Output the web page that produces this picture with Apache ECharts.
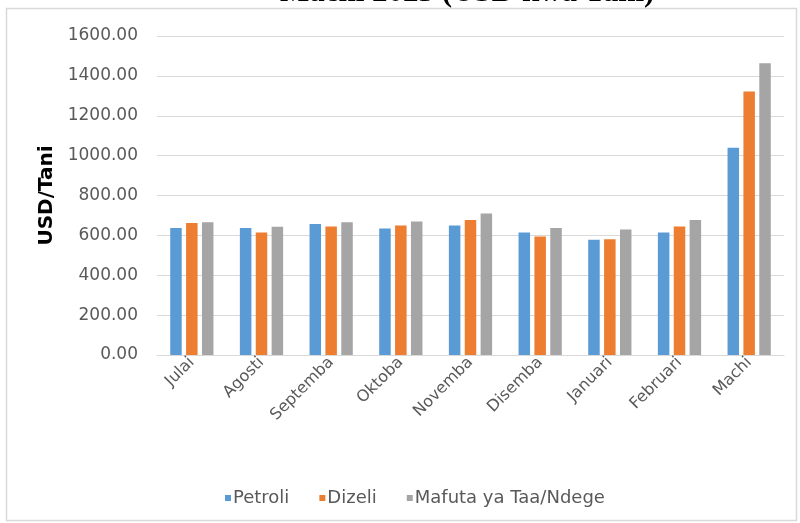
<!DOCTYPE html>
<html>
<head>
<meta charset="utf-8">
<script src="https://cdn.jsdelivr.net/npm/echarts@6/dist/echarts.min.js"></script>
<style>
html,body{margin:0;padding:0;background:#fff;}
#c{width:800px;height:523px;}
</style>
</head>
<body>
<div id="c"></div>
<script>
const categories = ['Julai','Agosti','Septemba','Oktoba','Novemba','Disemba','Januari','Februari','Machi'];
const petroli = [637, 637, 657, 635, 650, 615, 578, 615, 1040];
const dizeli  = [662, 615, 645, 650, 677, 594, 580, 645, 1322];
const mafuta  = [666, 643, 666, 670, 710, 637, 630, 677, 1463];
const seriesNames = ['Petroli', 'Dizeli', 'Mafuta ya Taa/Ndege'];
const titleText = 'Machi 2023 (USD kwa Tani)';

const chart = echarts.init(document.getElementById('c'));
const font = '"DejaVu Sans", sans-serif';
chart.setOption({
  animation: false,
  color: ['#5b9bd5', '#ed7d31', '#a5a5a5'],
  graphic: [
    { type: 'rect', shape: { x: 6.5, y: 8.5, width: 790, height: 512 }, style: { fill: 'none', stroke: '#d9d9d9', lineWidth: 1.5 }, z: -1 },
    { type: 'text', left: 280, top: -23, style: { text: titleText, font: 'bold 31px "Liberation Serif", "DejaVu Serif", serif', fill: '#000' } }
  ],
  grid: { left: 157, right: 16, top: 36, bottom: 168, containLabel: false },
  legend: {
    top: 484, left: 220,
    itemWidth: 6, itemHeight: 6, itemGap: 30,
    icon: 'rect',
    textStyle: { color: '#595959', fontSize: 18, fontFamily: font, padding: [0, 0, 0, -3] },
    data: seriesNames
  },
  xAxis: {
    type: 'category', data: categories,
    axisLine: { lineStyle: { color: '#d9d9d9' } },
    axisTick: { show: false },
    axisLabel: { rotate: 45, color: '#595959', fontSize: 16, fontFamily: font, interval: 0, margin: 5 }
  },
  yAxis: {
    type: 'value', min: 0, max: 1600, interval: 200,
    name: 'USD/Tani', nameLocation: 'middle', nameGap: 94,
    nameTextStyle: { color: '#000', fontSize: 20, fontWeight: 'bold', fontFamily: font },
    axisLine: { show: false }, axisTick: { show: false },
    axisLabel: { color: '#595959', fontSize: 17, fontFamily: font, margin: 19, formatter: v => v.toFixed(2) },
    splitLine: { lineStyle: { color: '#d9d9d9' } }
  },
  series: [
    { name: seriesNames[0], type: 'bar', data: petroli, barWidth: 11.5, barGap: '38%' },
    { name: seriesNames[1], type: 'bar', data: dizeli, barWidth: 11.5, barGap: '38%' },
    { name: seriesNames[2], type: 'bar', data: mafuta, barWidth: 11.5, barGap: '38%' }
  ]
});
</script>
</body>
</html>
